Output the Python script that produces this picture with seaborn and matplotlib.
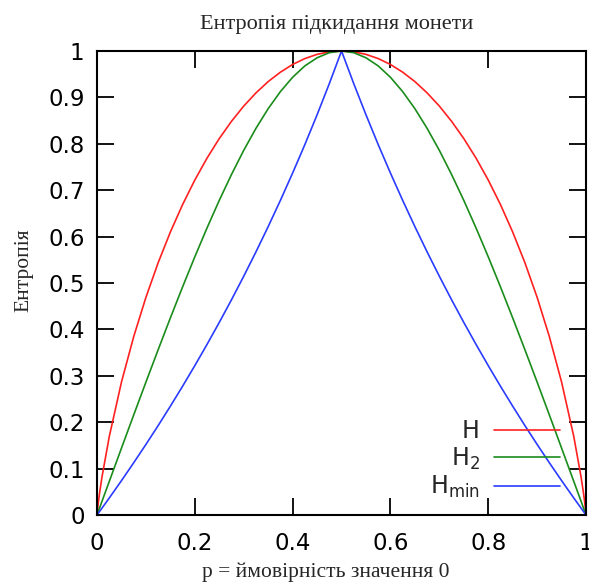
import matplotlib
matplotlib.use("Agg")
import matplotlib.pyplot as plt
import pandas as pd
import seaborn as sns

p = [0, 0.0025, 0.005, 0.01, 0.025, 0.05, 0.075, 0.1, 0.125, 0.15, 0.175, 0.2, 0.225, 0.25,
     0.275, 0.3, 0.325, 0.35, 0.375, 0.4, 0.425, 0.45, 0.475, 0.5,
     0.525, 0.55, 0.575, 0.6, 0.625, 0.65, 0.675, 0.7, 0.725, 0.75, 0.775, 0.8,
     0.825, 0.85, 0.875, 0.9, 0.925, 0.95, 0.975, 0.99, 0.995, 0.9975, 1]
h_shannon = [0, 0.0252, 0.0454, 0.0808, 0.1687, 0.2864, 0.3843, 0.4690, 0.5436, 0.6098, 0.6690, 0.7219,
             0.7692, 0.8113, 0.8485, 0.8813, 0.9097, 0.9341, 0.9544, 0.9710, 0.9837, 0.9928, 0.9982, 1.0,
             0.9982, 0.9928, 0.9837, 0.9710, 0.9544, 0.9341, 0.9097, 0.8813, 0.8485, 0.8113, 0.7692, 0.7219,
             0.6690, 0.6098, 0.5436, 0.4690, 0.3843, 0.2864, 0.1687, 0.0808, 0.0454, 0.0252, 0]
h_2 = [0, 0.0072, 0.0144, 0.0289, 0.0721, 0.1440, 0.2155, 0.2863, 0.3561, 0.4247, 0.4916, 0.5564,
       0.6187, 0.6781, 0.7339, 0.7859, 0.8333, 0.8757, 0.9125, 0.9434, 0.9679, 0.9854, 0.9964, 1.0,
       0.9964, 0.9854, 0.9679, 0.9434, 0.9125, 0.8757, 0.8333, 0.7859, 0.7339, 0.6781, 0.6187, 0.5564,
       0.4916, 0.4247, 0.3561, 0.2863, 0.2155, 0.1440, 0.0721, 0.0289, 0.0144, 0.0072, 0]
h_min = [0, 0.0036, 0.0072, 0.0145, 0.0365, 0.0740, 0.1125, 0.1520, 0.1926, 0.2345, 0.2775, 0.3219,
         0.3677, 0.4150, 0.4639, 0.5146, 0.5670, 0.6215, 0.6781, 0.7370, 0.7983, 0.8625, 0.9296, 1.0,
         0.9296, 0.8625, 0.7983, 0.7370, 0.6781, 0.6215, 0.5670, 0.5146, 0.4639, 0.4150, 0.3677, 0.3219,
         0.2775, 0.2345, 0.1926, 0.1520, 0.1125, 0.0740, 0.0365, 0.0145, 0.0072, 0.0036, 0]

labels = ["H", "H$_2$", "H$_{\\mathrm{min}}$"]
colors = ["#ff2020", "#1a8c1a", "#2a3cff"]
x_ticks = [0, 0.2, 0.4, 0.6, 0.8, 1]
x_ticklabels = ["0", "0.2", "0.4", "0.6", "0.8", "1"]
y_ticks = [0, 0.1, 0.2, 0.3, 0.4, 0.5, 0.6, 0.7, 0.8, 0.9, 1]
y_ticklabels = ["0", "0.1", "0.2", "0.3", "0.4", "0.5", "0.6", "0.7", "0.8", "0.9", "1"]

df = pd.DataFrame({"p": p * 3,
                   "value": h_shannon + h_2 + h_min,
                   "series": [labels[0]] * len(p) + [labels[1]] * len(p) + [labels[2]] * len(p)})

sns.set_theme(style="ticks")
plt.rcParams["font.family"] = ["DejaVu Sans"]

fig = plt.figure(figsize=(5.89, 5.85), dpi=100)
ax = fig.add_axes([0.1647, 0.1197, 0.8303, 0.7931])

sns.lineplot(data=df, x="p", y="value", hue="series", hue_order=labels,
             palette=colors, linewidth=1.2, ax=ax, legend=True)

ax.set_xlim(0, 1)
ax.set_ylim(0, 1)
ax.set_xticks(x_ticks)
ax.set_xticklabels(x_ticklabels)
ax.set_yticks(y_ticks)
ax.set_yticklabels(y_ticklabels)
ax.tick_params(direction="in", length=12, width=1.3, top=True, right=True,
               labelsize=16.5, colors="black")
ax.tick_params(axis="x", pad=12)
ax.tick_params(axis="y", pad=9)
for s in ax.spines.values():
    s.set_linewidth(1.5)
    s.set_color("black")

serif = ["Liberation Serif", "DejaVu Serif"]
ax.set_title("Ентропія підкидання монети", family=serif, fontsize=16, pad=16, x=0.49)
ax.set_xlabel("p = ймовірність значення 0", family=serif, fontsize=15.5)
ax.xaxis.set_label_coords(0.468, -0.102)
ax.set_ylabel("Ентропія", family=serif, fontsize=15.5)
ax.yaxis.set_label_coords(-0.131, 0.528)

handles, _ = ax.get_legend_handles_labels()
leg = ax.legend(handles, labels, loc="lower right", bbox_to_anchor=(0.947, 0.032),
                frameon=False, markerfirst=False, fontsize=17, handlelength=2.8,
                handletextpad=0.6, labelspacing=0.1, borderpad=0, borderaxespad=0)
for t in leg.get_texts():
    t.set_ha("right")

fig.savefig("out.png", dpi=100)
